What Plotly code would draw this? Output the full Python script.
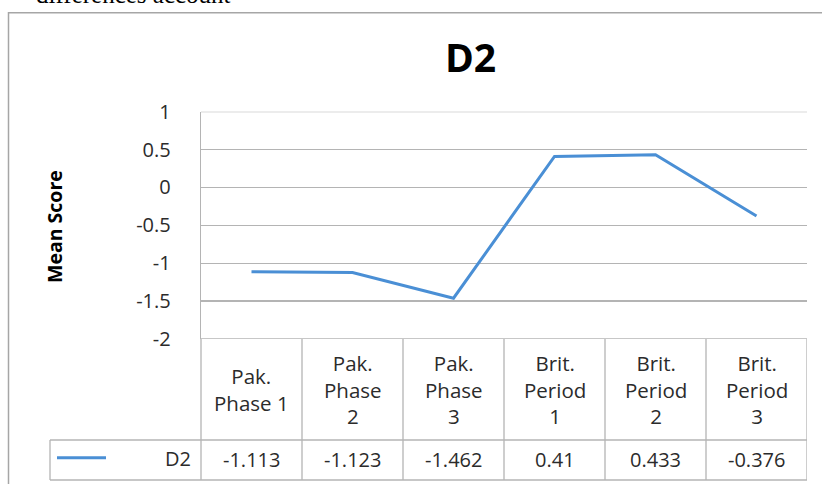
import plotly.graph_objects as go

categories = ["Pak. Phase 1", "Pak. Phase 2", "Pak. Phase 3",
              "Brit. Period 1", "Brit. Period 2", "Brit. Period 3"]
header_labels = ["Pak.<br>Phase 1", "Pak.<br>Phase<br>2", "Pak.<br>Phase<br>3",
                 "Brit.<br>Period<br>1", "Brit.<br>Period<br>2", "Brit.<br>Period<br>3"]
d2_values = [-1.113, -1.123, -1.462, 0.41, 0.433, -0.376]
d2_labels = ["-1.113", "-1.123", "-1.462", "0.41", "0.433", "-0.376"]
y_ticks = [1, 0.5, 0, -0.5, -1, -1.5, -2]
y_ticktext = ["1", "0.5", "0", "-0.5", "-1", "-1.5", "-2"]
series_name = "D2"

W, H = 822, 484
def px(x):
    return x / W
def py(y):
    return 1 - y / H

LINE = "#4a8fd5"
GRID = "#b4b4b4"
BORDER = "#a6a6a6"
TXT = "#2b2b2b"
FONT = "Open Sans"

fig = go.Figure()
fig.add_trace(go.Scatter(x=categories, y=d2_values, mode="lines",
                         line=dict(color=LINE, width=3), name=series_name,
                         showlegend=False, hoverinfo="skip"))

plot_left, plot_right = 201, 807
y_top, y_bot = 111.7, 339.0
table_mid, table_bot = 440.0, 480.0

fig.update_layout(
    template="none",
    width=W, height=H, autosize=False,
    margin=dict(l=0, r=0, t=0, b=0, pad=0, autoexpand=False),
    paper_bgcolor="white", plot_bgcolor="white",
    showlegend=False,
    xaxis=dict(domain=[px(plot_left), px(plot_right)], type="category",
               range=[-0.5, 5.5], showgrid=False, showticklabels=False,
               zeroline=False, showline=False, fixedrange=True, automargin=False, ticks=""),
    yaxis=dict(domain=[py(y_bot), py(y_top)], range=[-2, 1],
               tickvals=y_ticks, ticktext=y_ticktext, automargin=False,
               showgrid=True, gridcolor=GRID, gridwidth=1.3, fixedrange=True,
               zeroline=False, showline=True, linecolor=GRID, linewidth=1.3,
               ticks="", ticklabelstandoff=25,
               tickfont=dict(family=FONT, size=20, color=TXT)),
)

shapes = []
# outer chart frame
shapes.append(dict(type="rect", xref="paper", yref="paper",
                   x0=px(8.5), x1=1.02, y0=-0.02, y1=py(12.7),
                   line=dict(color=BORDER, width=1.5), fillcolor="rgba(0,0,0,0)", layer="below"))
# gridlines at both ends of the value range (plotly drops edge gridlines)
for v in (y_ticks[0], y_ticks[-1]):
    shapes.append(dict(type="line", xref="x domain", yref="y",
                       x0=0, x1=1, y0=v, y1=v, line=dict(color=GRID, width=1.3)))
# axis line extension into table
shapes.append(dict(type="line", xref="paper", yref="paper",
                   x0=px(plot_left), x1=px(plot_left), y0=py(table_bot), y1=py(y_bot),
                   line=dict(color=GRID, width=1.3)))
# column separators
for i in range(len(categories)):
    shapes.append(dict(type="line", xref="x", yref="paper",
                       x0=i + 0.5, x1=i + 0.5, y0=py(table_bot), y1=py(y_bot),
                       line=dict(color=GRID, width=1.3)))
# horizontal table lines
for yy in (table_mid, table_bot):
    shapes.append(dict(type="line", xref="paper", yref="paper",
                       x0=px(50), x1=px(plot_right), y0=py(yy), y1=py(yy),
                       line=dict(color=GRID, width=1.3)))
# legend cell left border
shapes.append(dict(type="line", xref="paper", yref="paper",
                   x0=px(50), x1=px(50), y0=py(table_bot), y1=py(table_mid),
                   line=dict(color=GRID, width=1.3)))
# legend key line
shapes.append(dict(type="line", xref="paper", yref="paper",
                   x0=px(57), x1=px(106), y0=py(457.7), y1=py(457.7),
                   line=dict(color=LINE, width=3)))
fig.update_layout(shapes=shapes)

ann = []
# text of the surrounding page, cut off at the top edge as in the source image
ann.append(dict(text="differences account", xref="paper", yref="paper",
                x=px(233), y=py(10), xanchor="right", yanchor="bottom",
                showarrow=False, font=dict(family="Liberation Serif", size=25, color="black")))
# title
ann.append(dict(text="<b>D2</b>", xref="paper", yref="paper",
                x=px(470), y=py(56), xanchor="center", yanchor="middle",
                showarrow=False, font=dict(family=FONT, size=39, color="black")))
# y axis title
ann.append(dict(text="<b>Mean Score</b>", xref="paper", yref="paper",
                x=px(54), y=py(227), xanchor="center", yanchor="middle", textangle=-90,
                showarrow=False, font=dict(family=FONT, size=19.5, color="black")))
# header labels
for c, lab in zip(categories, header_labels):
    ann.append(dict(text=lab, xref="x", yref="paper", x=c, y=py((y_bot + table_mid) / 2),
                    xanchor="center", yanchor="middle", showarrow=False,
                    font=dict(family=FONT, size=20.5, color=TXT)))
# values row
for c, lab in zip(categories, d2_labels):
    ann.append(dict(text=lab, xref="x", yref="paper", x=c, y=py(459),
                    xanchor="center", yanchor="middle", showarrow=False,
                    font=dict(family=FONT, size=20, color=TXT)))
# series name in legend cell
ann.append(dict(text=series_name, xref="paper", yref="paper", x=px(193), y=py(458),
                xanchor="right", yanchor="middle", showarrow=False,
                font=dict(family=FONT, size=20, color=TXT)))
fig.update_layout(annotations=ann)

fig.write_html("out.html", config={"displayModeBar": False, "staticPlot": True},
               post_script="document.body.style.margin='0';")
